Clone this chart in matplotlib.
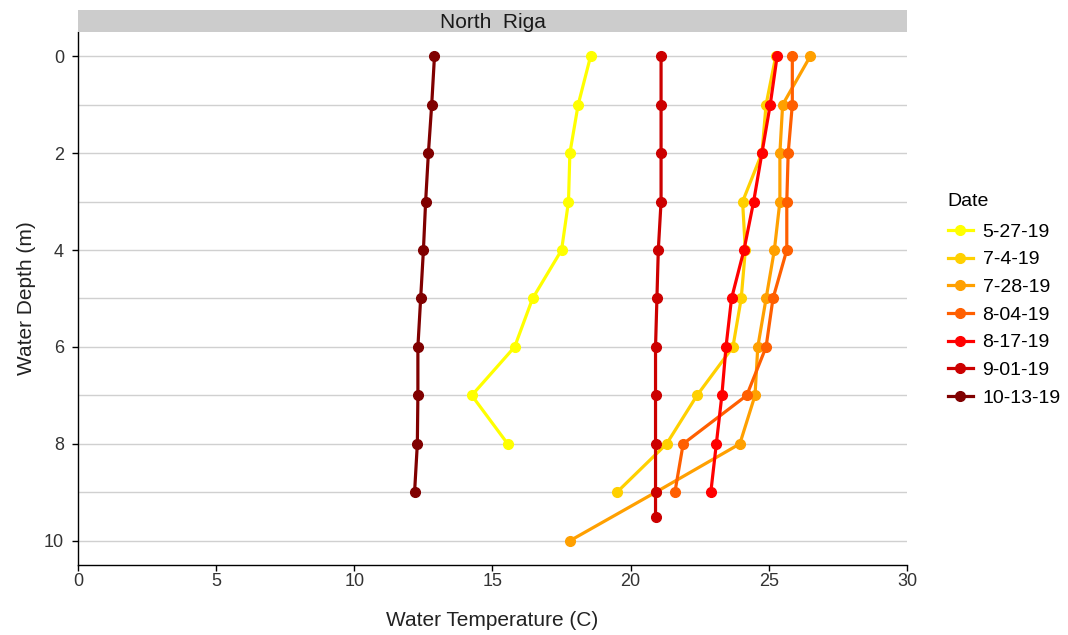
import matplotlib
matplotlib.use("Agg")
import matplotlib.pyplot as plt
from matplotlib.lines import Line2D

plt.rcParams['font.family'] = ['Liberation Sans', 'DejaVu Sans']

dates = ["5-27-19", "7-4-19", "7-28-19", "8-04-19", "8-17-19", "9-01-19", "10-13-19"]
colors = ["#FFFF00", "#FFD000", "#FFA000", "#FF5F00", "#FF0000", "#CC0000", "#800000"]

depth_5_27 = [0, 1, 2, 3, 4, 5, 6, 7, 8]
temp_5_27 = [18.55, 18.1, 17.8, 17.75, 17.5, 16.45, 15.8, 14.25, 15.55]

depth_7_4 = [0, 1, 2, 3, 4, 5, 6, 7, 8, 9]
temp_7_4 = [25.25, 24.9, 24.75, 24.05, 24.15, 24.0, 23.7, 22.4, 21.3, 19.5]

depth_7_28 = [0, 1, 2, 3, 4, 5, 6, 7, 8, 9, 10]
temp_7_28 = [26.5, 25.5, 25.4, 25.4, 25.2, 24.9, 24.6, 24.5, 23.95, 20.9, 17.8]

depth_8_04 = [0, 1, 2, 3, 4, 5, 6, 7, 8, 9]
temp_8_04 = [25.85, 25.85, 25.7, 25.65, 25.65, 25.15, 24.9, 24.2, 21.9, 21.6]

depth_8_17 = [0, 1, 2, 3, 4, 5, 6, 7, 8, 9]
temp_8_17 = [25.3, 25.05, 24.75, 24.45, 24.1, 23.65, 23.45, 23.3, 23.1, 22.9]

depth_9_01 = [0, 1, 2, 3, 4, 5, 6, 7, 8, 9, 9.5]
temp_9_01 = [21.1, 21.1, 21.1, 21.1, 21.0, 20.95, 20.9, 20.9, 20.9, 20.9, 20.9]

depth_10_13 = [0, 1, 2, 3, 4, 5, 6, 7, 8, 9]
temp_10_13 = [12.9, 12.8, 12.68, 12.58, 12.5, 12.4, 12.3, 12.3, 12.28, 12.18]

series = [
    (temp_5_27, depth_5_27),
    (temp_7_4, depth_7_4),
    (temp_7_28, depth_7_28),
    (temp_8_04, depth_8_04),
    (temp_8_17, depth_8_17),
    (temp_9_01, depth_9_01),
    (temp_10_13, depth_10_13),
]

fig = plt.figure(figsize=(10.68, 6.35), dpi=100)
W, H = 1068, 635
ax = fig.add_axes([78 / W, 1 - 565 / H, (907 - 78) / W, (565 - 32) / H])

for (t, d), c, lab in zip(series, colors, dates):
    ax.plot(t, d, color=c, lw=2.3, marker='o', ms=7, mec=c, mfc=c, label=lab, zorder=3)

ax.set_xlim(0, 30)
ax.set_ylim(10.5, -0.5)
ax.set_xticks([0, 5, 10, 15, 20, 25, 30])
ax.set_yticks([0, 2, 4, 6, 8, 10])
ax.set_yticks([1, 3, 5, 7, 9], minor=True)
ax.tick_params(axis='y', which='minor', length=0)
ax.grid(axis='y', which='both', color='#D0D0D0', lw=1.0, zorder=0)
ax.set_axisbelow(True)
for s in ['top', 'right']:
    ax.spines[s].set_visible(False)
for s in ['left', 'bottom']:
    ax.spines[s].set_color('black')
    ax.spines[s].set_linewidth(1.0)
ax.tick_params(axis='both', which='major', length=4, width=1, color='black',
               labelsize=13, labelcolor='#333333')
ax.tick_params(axis='y', pad=6)
ax.tick_params(axis='x', pad=2)
ax.set_xlabel("Water Temperature (C)", fontsize=15, color='#222222', labelpad=15)
ax.set_ylabel("Water Depth (m)", fontsize=15, color='#222222', labelpad=6)

# facet strip
sax = fig.add_axes([78 / W, 1 - 32 / H, (907 - 78) / W, 22 / H])
sax.set_facecolor('#CCCCCC')
sax.set_xticks([]); sax.set_yticks([])
for s in sax.spines.values():
    s.set_visible(False)
sax.text(0.5, 0.42, "North  Riga", ha='center', va='center', fontsize=15,
         color='#1A1A1A', transform=sax.transAxes)

handles = [Line2D([0], [0], color=c, lw=2.3, marker='o', ms=7) for c in colors]
leg = fig.legend(handles, dates, title="Date", loc='upper left',
                 bbox_to_anchor=(930 / W, 1 - 176 / H), frameon=False,
                 fontsize=14, title_fontsize=14, handlelength=1.3,
                 labelspacing=0.52, alignment='left', handletextpad=0.5)
leg._legend_box.sep = 9

fig.savefig("out.png", dpi=100)
